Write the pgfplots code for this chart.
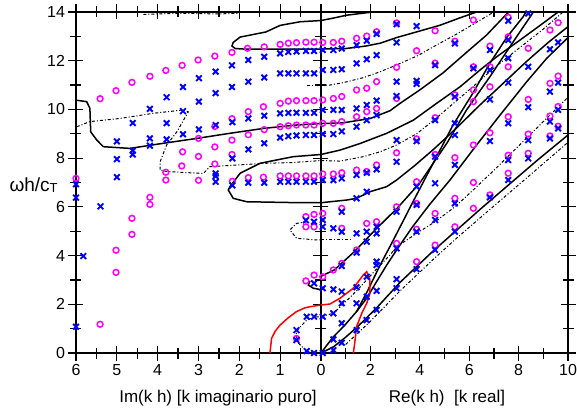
\documentclass[border=0pt]{standalone}
\usepackage{fontspec}
\setmainfont{Liberation Sans}
\usepackage{pgfplots}
\pgfplotsset{compat=1.18}
\definecolor{mag}{RGB}{255,0,255}
\definecolor{blu}{RGB}{0,0,255}
\pgfplotsset{
  base/.style={scale only axis, height=341pt, ymin=0, ymax=14, clip=false,
    tick align=center, major tick length=15pt, minor tick length=11pt,
    every tick/.style={black, line width=1.2pt},
    axis line style={line width=1.5pt},
    tick label style={font=\fontsize{16}{18}\selectfont},
    /pgf/number format/assume math mode=true},
  mm/.style={only marks, mark=o, mark size=2.9pt, color=mag, line width=1.5pt},
  xx/.style={only marks, mark=x, mark size=4pt, color=blu, line width=1.9pt},
  sol/.style={black, line width=1.5pt, no marks},
  dd/.style={black, line width=1.0pt, no marks, dash pattern=on 3pt off 2pt on 1pt off 2pt},
  rl/.style={color={rgb,255:red,255;green,0;blue,0}, line width=1.5pt, no marks},
}
\begin{document}
\begin{tikzpicture}
\useasboundingbox (-76pt,-59pt) rectangle (501pt,353pt);
% ---- imaginary k (left half) ----
\begin{axis}[base, at={(0,0)}, anchor=south west, width=245pt,
  xmin=0, xmax=6, x dir=reverse,
  xtick={0,...,6}, minor x tick num=1,
  ytick={0,2,...,14}, minor y tick num=1]
\addplot[sol] coordinates {(0,12.48)(1.0,12.48)(1.9,12.48)(2.1,12.5)(2.18,12.6)(2.15,12.75)(1.98,12.97)(1.35,13.18)(1.0,13.45)(0.51,13.6)(0,13.65)};
\addplot[sol] coordinates {(6.0,10.38)(5.74,10.32)(5.66,10.05)(5.64,9.08)(5.49,8.74)(5.33,8.47)(4.68,8.40)(3.86,8.61)(3.04,8.81)(2.23,9.02)(1.41,9.22)(0.6,9.36)(0,9.42)};
\addplot[sol] coordinates {(0,8.15)(0.68,8.06)(1.49,7.79)(1.98,7.38)(2.23,6.83)(2.27,6.69)(2.15,6.35)(1.82,6.21)(0.51,6.17)(0,6.17)};
\addplot[sol] coordinates {(0.27,2.96)(0.31,2.79)(0.19,2.66)(0,2.6)};
\addplot[dd] coordinates {(5.98,9.29)(5.66,9.5)(4.92,9.63)(4.11,9.84)(3.37,9.98)(3.25,9.9)(3.53,9.08)(3.78,8.54)(3.94,7.85)(3.94,7.51)(3.78,7.45)(2.88,7.37)(2.72,7.65)(1.33,7.79)(0.72,7.82)(0,7.9)};
\addplot[dd] coordinates {(4.35,13.9)(3.5,13.95)(2.5,13.92)(2.0,13.95)};
\addplot[dd] coordinates {(0.35,11.0)(0,11.0)};
\addplot[dd] coordinates {(0.35,5.38)(0.6,5.32)(0.76,5.05)(0.6,4.71)(0.1,4.64)(0,4.64)};
\addplot[dd] coordinates {(0.17,0)(0.35,0.08)(0.55,0.4)(0.62,0.75)(0.55,1.0)(0.35,1.35)(0.17,1.47)(0,1.5)};
\addplot[rl] coordinates {(1.25,0)(1.23,0.3)(1.21,0.6)(1.12,0.9)(1.0,1.15)(0.8,1.45)(0.6,1.7)(0.4,1.85)(0.27,1.9)(0,1.97)};
\addplot[mm] table {
5.41 10.44
5.02 10.77
4.63 11.11
4.19 11.36
3.80 11.60
3.40 11.81
3.01 12.03
2.60 12.19
2.18 12.34
1.80 12.51
1.39 12.57
1.00 12.67
0.80 12.72
0.60 12.74
0.37 12.76
0.17 12.76
0.17 10.36
0.37 10.36
0.60 10.36
0.80 10.34
1.00 10.25
1.41 10.11
1.78 9.91
2.18 9.62
2.60 9.30
3.00 8.81
3.39 8.26
0.17 9.36
0.37 9.36
0.60 9.36
0.80 9.33
1.00 9.29
1.39 9.17
1.78 8.96
2.18 8.74
2.60 8.46
3.00 8.07
3.41 7.68
3.80 7.42
2.18 8.15
2.60 7.76
3.80 7.10
3.00 7.09
4.19 6.39
4.19 6.10
4.63 5.53
4.63 4.87
5.02 4.22
5.02 3.31
5.41 1.18
6.00 7.17
0.17 7.27
0.37 7.27
0.60 7.27
0.80 7.27
1.00 7.27
1.41 7.22
1.78 7.20
2.17 7.05
0.17 5.69
0.37 5.60
0.37 5.18
0.17 5.18
0.37 2.96
0.17 3.20
0.60 0.60
};
\addplot[xx] table {
5.00 7.22
5.00 7.96
5.00 8.69
4.61 9.44
4.19 10.02
3.78 10.50
3.38 10.92
2.99 11.28
2.58 11.55
2.18 11.81
1.78 12.03
1.39 12.16
1.00 12.30
0.80 12.36
0.60 12.38
0.37 12.40
0.17 12.40
0.17 11.48
0.37 11.48
0.60 11.48
0.80 11.48
1.00 11.48
1.39 11.31
1.78 11.14
2.18 10.92
2.58 10.67
2.99 10.32
3.38 9.93
3.78 9.44
4.19 8.81
4.61 8.30
4.19 8.51
4.61 8.15
0.17 9.86
0.37 9.86
0.60 9.86
0.80 9.86
1.00 9.84
1.39 9.74
1.78 9.63
2.17 9.48
2.58 9.36
2.99 9.18
3.38 8.98
3.78 8.77
0.17 8.95
0.37 8.95
0.60 8.93
0.80 8.90
1.00 8.84
1.39 8.61
1.78 8.36
2.17 7.99
2.58 7.37
2.58 7.26
0.17 7.03
0.37 7.03
0.60 7.03
0.80 7.03
1.00 7.03
1.39 6.99
1.78 6.99
2.17 6.88
2.58 7.03
6.00 6.93
6.00 6.38
5.40 6.02
5.82 3.98
6.00 1.08
0.17 5.39
0.37 5.45
0.17 2.86
0.35 1.49
0.17 1.49
0.60 0.94
0.60 0.53
0.35 0.08
0.17 0.00
};
\end{axis}
% ---- real k (right half) ----
\begin{axis}[base, at={(245pt,0)}, anchor=south west, width=247pt,
  xmin=0, xmax=10,
  xtick={0,2,...,10}, xticklabels={,2,4,6,8,10}, minor x tick num=1,
  ytick={0,2,...,14}, minor y tick num=1, ytick pos=right, yticklabels={}]
\addplot[sol] coordinates {(0,13.65)(0.5,13.75)(1.05,13.87)(2.1,14.0)};
\addplot[sol] coordinates {(0,12.48)(1.0,12.5)(1.8,12.6)(2.4,12.72)(3.06,12.95)(4.0,13.22)(4.8,13.45)(5.6,13.75)(6.3,14.0)};
\addplot[sol] coordinates {(0,9.42)(0.9,9.45)(2.0,9.63)(2.8,9.95)(3.2,10.25)(4.0,10.8)(4.94,11.5)(5.9,12.35)(6.7,13.05)(7.5,13.9)(7.6,14)};
\addplot[sol] coordinates {(0,8.15)(0.77,8.33)(1.58,8.6)(2.66,9.02)(3.74,9.56)(4.68,10.25)(5.63,10.93)(6.44,11.62)(7.11,12.16)(8.06,12.85)(8.87,13.45)(9.6,14)};
\addplot[sol] coordinates {(0,6.17)(1.04,6.28)(1.44,6.35)(1.98,6.62)(2.66,6.83)(3.06,7.1)(3.8,7.7)(4.6,8.4)(5.5,9.25)(6.4,10.15)(7.3,11.0)(8.3,11.95)(9.2,12.75)(10,13.4)};
\addplot[sol] coordinates {(0,0)(0.47,0.63)(0.97,1.15)(1.44,1.7)(1.85,2.25)(2.25,2.93)(2.66,3.61)(3.06,4.23)(3.72,5.2)(4.4,6.1)(5.22,7.1)(6.3,8.54)(7.25,9.77)(8.33,11.14)(9.14,12.1)(10,12.95)};
\addplot[sol] coordinates {(1.44,1.7)(1.86,2.5)(2.39,3.6)(2.91,4.6)(3.72,6.2)(4.7,8.1)(5.34,9.35)(6.15,10.67)(6.84,11.9)(7.53,12.97)(8.18,13.8)(8.3,14)};
\addplot[sol] coordinates {(0,3.15)(0.54,3.41)(1.35,4.16)(2.19,5.05)(3.08,5.94)(4.0,6.98)(5.1,8.62)(5.9,9.99)(6.85,11.36)(7.93,13.0)(8.6,14)};
\addplot[sol] coordinates {(0,0)(0.5,0.25)(1.0,0.65)(1.5,1.1)(2.25,1.85)(3.2,2.9)(4.5,4.15)(5.42,4.98)(6.5,5.95)(7.65,6.95)(8.8,7.95)(10,8.95)};
\addplot[dd] coordinates {(1.0,0.35)(2.0,1.3)(3.2,2.55)(4.5,3.8)(5.42,4.65)(6.5,5.6)(7.65,6.6)(8.8,7.6)(10,8.65)};
\addplot[dd] coordinates {(0,11.0)(0.36,11.0)(0.9,11.1)(1.7,11.3)(2.4,11.55)(3.0,11.8)(3.9,12.2)(4.6,12.6)(5.5,13.1)(6.5,13.7)(7.0,14)};
\addplot[dd] coordinates {(0,7.9)(0.77,7.88)(1.71,8.06)(2.39,8.26)(3.06,8.54)(3.87,9.0)(4.62,9.6)(5.42,10.3)(6.17,10.95)(7.0,11.7)(8.0,12.5)(9.0,13.3)(9.8,14.0)};
\addplot[dd] coordinates {(0,4.64)(1.2,4.64)};
\addplot[dd] coordinates {(0,1.5)(0.5,1.63)(0.84,1.95)(1.44,2.55)(1.85,3.0)(2.25,3.45)(2.79,4.02)(3.06,4.36)(3.87,4.91)(4.62,5.39)(5.42,6.0)(6.17,6.7)(7.0,7.5)(8,8.5)(9,9.5)(10,10.5)};
\addplot[rl] coordinates {(0,1.97)(0.36,2.01)(0.77,2.25)(1.31,2.66)(1.71,3.2)(1.85,3.34)(1.98,3.0)(1.98,2.45)(1.85,2.04)(1.65,1.63)(1.44,1.08)(1.38,0.53)(1.31,0)};
\addplot[mm] table {
0.07 12.75
0.07 10.39
0.07 9.43
0.07 7.35
0.07 5.73
0.07 3.13
0.50 12.75
0.50 10.45
0.50 9.43
0.50 7.35
0.50 3.41
0.84 12.80
0.84 10.53
0.84 9.50
0.84 7.40
0.84 5.94
0.84 5.12
0.84 3.68
1.44 12.92
1.44 10.80
1.44 9.70
1.44 7.51
1.44 4.23
1.85 13.01
1.85 10.87
1.85 9.91
1.85 7.45
1.85 5.32
2.25 13.19
2.25 11.14
2.25 10.04
2.25 7.72
2.25 5.39
3.06 13.55
3.06 11.73
3.06 10.45
3.06 8.22
3.06 6.00
3.06 4.50
3.87 12.41
3.87 8.79
3.87 7.03
3.87 6.14
3.87 5.08
3.87 3.75
4.62 13.23
4.62 11.90
4.62 9.66
4.62 8.15
4.62 5.73
4.62 4.43
5.42 12.80
5.42 10.60
5.42 8.02
5.42 6.35
5.42 5.18
6.17 13.67
6.17 11.75
6.17 10.80
6.17 10.32
6.17 8.54
6.17 7.00
6.17 5.94
6.84 12.60
6.84 11.75
6.84 10.93
6.84 9.04
6.84 6.49
7.58 13.78
7.58 12.98
7.58 11.75
7.58 9.70
7.58 8.12
7.58 7.38
8.39 12.51
8.39 10.41
8.39 8.99
8.39 8.20
9.27 13.26
9.27 11.07
9.27 9.73
9.27 8.91
9.60 13.56
9.60 11.37
9.60 10.12
9.60 9.31
};
\addplot[xx] table {
0.07 12.44
0.07 11.62
0.07 9.98
0.07 8.99
0.07 7.10
0.07 5.46
0.07 5.18
0.07 2.66
0.07 1.49
0.07 0.00
0.50 12.44
0.50 11.62
0.50 9.98
0.50 8.99
0.50 7.10
0.50 5.12
0.50 2.61
0.50 1.63
0.50 0.56
0.50 0.12
0.84 12.50
0.84 11.65
0.84 9.98
0.84 9.10
0.84 7.17
0.84 5.80
0.84 4.98
0.84 3.57
0.84 2.52
0.84 2.04
0.84 1.22
0.84 0.42
1.44 12.64
1.44 11.89
1.44 10.04
1.44 9.29
1.44 7.31
1.44 6.35
1.44 4.91
1.44 4.12
1.44 2.70
1.44 2.04
1.44 0.94
1.85 12.82
1.85 12.06
1.85 10.18
1.85 9.56
1.85 7.40
1.85 6.62
1.85 4.98
1.85 4.57
1.85 3.13
1.85 2.31
1.85 1.35
2.25 13.10
2.25 12.23
2.25 10.36
2.25 9.77
2.25 7.54
2.25 5.18
2.25 4.91
2.25 3.75
2.25 3.61
2.25 2.55
2.25 1.77
3.06 13.50
3.06 12.75
3.06 11.14
3.06 10.55
3.06 8.74
3.06 7.85
3.06 5.80
3.06 4.30
3.06 3.03
3.06 2.66
3.87 13.42
3.87 11.17
3.87 11.05
3.87 8.70
3.87 6.83
3.87 6.08
3.87 4.98
3.87 3.44
4.62 11.82
4.62 9.56
4.62 8.06
4.62 6.97
4.62 5.46
4.62 4.23
5.42 12.71
5.42 10.52
5.42 9.43
5.42 8.95
5.42 7.72
5.42 6.14
5.42 4.98
6.17 11.69
6.84 12.44
6.84 11.62
6.84 10.41
6.84 8.70
6.84 6.39
7.58 13.64
7.58 12.85
7.58 12.10
7.58 11.10
7.58 9.43
7.58 7.92
7.58 7.10
8.39 13.94
8.39 11.75
8.39 10.09
8.39 8.74
8.39 7.99
9.27 12.47
9.27 10.73
9.27 9.50
9.27 8.81
9.60 12.75
9.60 11.10
9.60 9.98
9.60 9.22
};
\end{axis}
\node[font=\fontsize{17}{20}\selectfont] at (142pt,-45pt) {Im(k h) [k imaginario puro]};
\node[font=\fontsize{17}{20}\selectfont] at (371pt,-45pt) {Re(k h)\ \ [k real]};
\node[anchor=west] at (-70pt,168pt) {\fontsize{19}{21}\selectfont ωh/c\raisebox{-0.1ex}{\fontsize{13}{15}\selectfont T}};
\end{tikzpicture}
\end{document}
